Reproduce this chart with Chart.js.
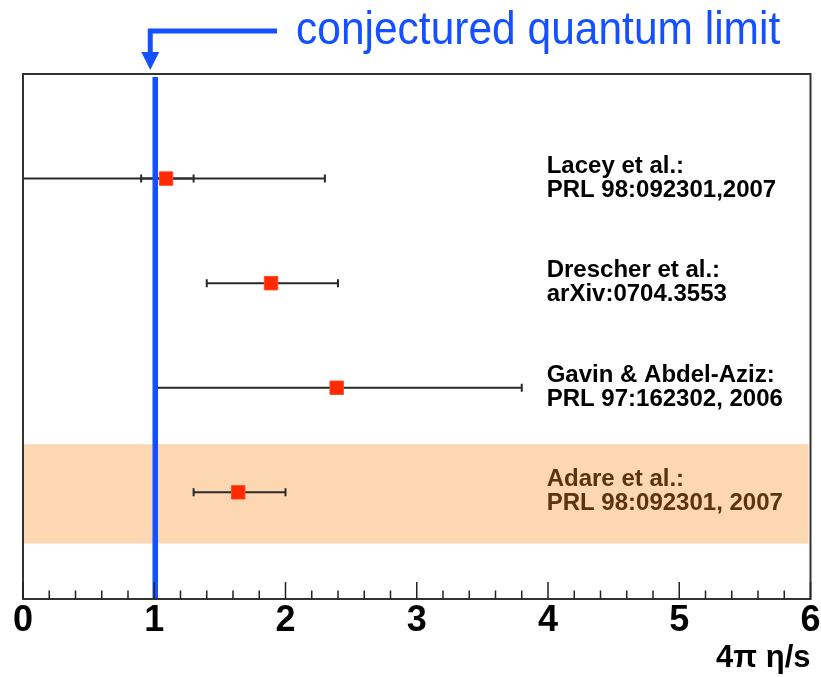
<!DOCTYPE html>
<html>
<head>
<meta charset="utf-8">
<script src="https://cdn.jsdelivr.net/npm/chart.js@4.4.1/dist/chart.umd.min.js"></script>
<style>
  html, body { margin: 0; padding: 0; background: #fff; }
  canvas { display: block; }
</style>
</head>
<body>
<canvas id="chart" width="821" height="677"></canvas>
<script>
// values
var studies = ['Lacey et al.:', 'Drescher et al.:', 'Gavin & Abdel-Aziz:', 'Adare et al.:'];
var refs = ['PRL 98:092301,2007', 'arXiv:0704.3553', 'PRL 97:162302, 2006', 'PRL 98:092301, 2007'];
var rows = [4, 3, 2, 1];
var etaS = [1.09, 1.89, 2.39, 1.64];
var errLow = [0.9, 1.4, 1.0, 1.3];
var errHigh = [1.3, 2.4, 3.8, 2.0];
var sysLow = [0, null, null, null];
var sysHigh = [2.3, null, null, null];
var quantumLimit = 1;
var bandRange = [0.51, 1.46];   // highlighted row (Adare)
var limitText = 'conjectured quantum limit';
var axisTitle = '4\u03c0 \u03b7/s';

var BLUE = '#1450ff';
var FONT = "'Liberation Sans', Arial, Helvetica, sans-serif";

var decorations = {
    id: 'decorations',
    beforeDatasetsDraw: function(chart) {
        var ctx = chart.ctx, xs = chart.scales.x, ys = chart.scales.y, a = chart.chartArea;
        ctx.save();
        // orange band behind the PHENIX result
        var yt = ys.getPixelForValue(bandRange[1]), yb = ys.getPixelForValue(bandRange[0]);
        ctx.fillStyle = '#fdd6b2';
        ctx.fillRect(a.left, yt, a.right - a.left - 2, yb - yt);

        // error bars
        ctx.strokeStyle = '#2a2a2a';
        ctx.lineWidth = 2;
        var bar = function(lo, hi, y) {
            var x1 = xs.getPixelForValue(lo), x2 = xs.getPixelForValue(hi);
            ctx.beginPath();
            ctx.moveTo(x1, y); ctx.lineTo(x2, y);
            ctx.moveTo(x1, y - 4); ctx.lineTo(x1, y + 4);
            ctx.moveTo(x2, y - 4); ctx.lineTo(x2, y + 4);
            ctx.stroke();
        };
        for (var i = 0; i < rows.length; i++) {
            var y = ys.getPixelForValue(rows[i]);
            if (sysLow[i] != null) bar(sysLow[i], sysHigh[i], y);
            bar(errLow[i], errHigh[i], y);
        }
        ctx.restore();
    },
    afterDatasetsDraw: function(chart) {
        var ctx = chart.ctx, xs = chart.scales.x, ys = chart.scales.y, a = chart.chartArea;
        ctx.save();
        var xq = xs.getPixelForValue(quantumLimit);

        // quantum limit line
        ctx.strokeStyle = BLUE;
        ctx.lineWidth = 5.5;
        ctx.beginPath();
        ctx.moveTo(xq + 1, a.top + 3);
        ctx.lineTo(xq + 1, a.bottom);
        ctx.stroke();

        // frame
        ctx.strokeStyle = '#333';
        ctx.lineWidth = 2;
        ctx.strokeRect(a.left, a.top, a.right - a.left, a.bottom - a.top);

        // ticks pointing inside
        ctx.strokeStyle = '#222';
        ctx.lineWidth = 1.5;
        ctx.beginPath();
        for (var k = 0; k <= 30; k++) {
            var xt = xs.getPixelForValue(k * 0.2);
            var len = (k % 5 === 0) ? 17 : 8.5;
            ctx.moveTo(xt, a.bottom);
            ctx.lineTo(xt, a.bottom - len);
        }
        ctx.stroke();

        // study labels
        ctx.font = 'bold 24px ' + FONT;
        ctx.textAlign = 'left';
        ctx.textBaseline = 'alphabetic';
        var xl = xs.getPixelForValue(3.99);
        for (var i = 0; i < rows.length; i++) {
            var y = ys.getPixelForValue(rows[i]);
            ctx.fillStyle = (i === 3) ? '#5c3210' : '#000';
            ctx.fillText(studies[i], xl, y - 6);
            ctx.fillText(refs[i], xl, y + 18);
        }

        // arrow from the annotation down to the line
        var xa = xq - 4;
        ctx.strokeStyle = BLUE;
        ctx.fillStyle = BLUE;
        ctx.lineWidth = 5;
        ctx.beginPath();
        ctx.moveTo(277, 31);
        ctx.lineTo(xa, 31);
        ctx.lineTo(xa, 54);
        ctx.stroke();
        ctx.beginPath();
        ctx.moveTo(xa - 9, 52);
        ctx.lineTo(xa + 9, 52);
        ctx.lineTo(xa, 70);
        ctx.closePath();
        ctx.fill();

        // annotation text, slightly tall like the original
        ctx.translate(296, 44);
        ctx.scale(1, 1.1);
        ctx.font = '42.5px ' + FONT;
        ctx.fillText(limitText, 0, 0);
        ctx.restore();
    }
};

new Chart(document.getElementById('chart'), {
    type: 'scatter',
    data: {
        datasets: [{
            data: etaS.map(function(v, i) { return { x: v, y: rows[i] }; }),
            pointStyle: 'rect',
            pointRadius: 9.5,
            backgroundColor: '#ff2a00',
            borderColor: '#ff4a2a',
            borderWidth: 1
        }]
    },
    options: {
        responsive: false,
        animation: false,
        devicePixelRatio: 1,
        layout: { padding: { top: 74, left: 23, right: 9, bottom: 0 } },
        scales: {
            x: {
                type: 'linear', min: 0, max: 6,
                grid: { display: false, drawTicks: false },
                border: { display: false },
                ticks: {
                    stepSize: 1, padding: 0, color: '#000',
                    font: { family: FONT, size: 36, weight: 'bold' }
                },
                title: {
                    display: true, text: axisTitle, align: 'end', color: '#000',
                    font: { family: FONT, size: 31, weight: 'bold' },
                    padding: { top: 0, bottom: 0 }
                },
                afterFit: function(s) { s.height = 78; }
            },
            y: { type: 'linear', min: -0.02, max: 5, display: false }
        },
        plugins: { legend: { display: false }, tooltip: { enabled: false } }
    },
    plugins: [decorations]
});
</script>
</body>
</html>
